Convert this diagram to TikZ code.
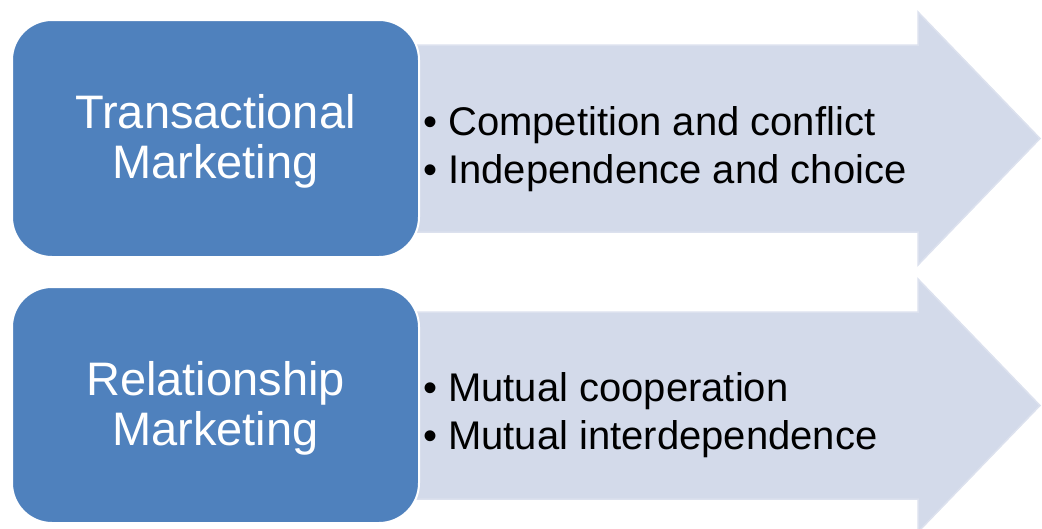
\documentclass[tikz,border=0pt]{standalone}
\usepackage{fontspec}
\setmainfont{Liberation Sans}
\definecolor{boxblue}{HTML}{4F81BD}
\definecolor{arrowfill}{HTML}{D3DAEA}
\definecolor{arrowline}{HTML}{DCE1EE}
\begin{document}
\begin{tikzpicture}[x=1pt,y=-1pt,
  titlebox/.style={draw=white,line width=2pt,fill=boxblue,rounded corners=40pt},
  arrowshape/.style={fill=arrowfill,draw=arrowline,line width=1.5pt,line join=miter},
  titletext/.style={text=white,align=center,inner sep=0pt,font=\fontsize{47}{50}\selectfont},
  bullettext/.style={text=black,align=left,inner sep=0pt,anchor=west,font=\fontsize{40}{48}\selectfont}]
\clip (0,0) rectangle (1042,528);
% top row
\draw[arrowshape] (400,45) -- (918,45) -- (918,12) -- (1040,138.5) -- (918,265) -- (918,232) -- (400,232) -- cycle;
\draw[titlebox] (12,20) rectangle (419,257);
\node[titletext] (t1) at (215.5,141) {Transactional\\Marketing};
\node[bullettext] (b1) at (423,149.5) {• Competition and conflict\\• Independence and choice};
% bottom row
\draw[arrowshape] (400,312) -- (918,312) -- (918,279) -- (1040,405.5) -- (918,532) -- (918,499) -- (400,499) -- cycle;
\draw[titlebox] (12,287) rectangle (419,523);
\node[titletext] (t2) at (215.5,408) {Relationship\\Marketing};
\node[bullettext] (b2) at (423,415) {• Mutual cooperation\\• Mutual interdependence};
\end{tikzpicture}
\end{document}
